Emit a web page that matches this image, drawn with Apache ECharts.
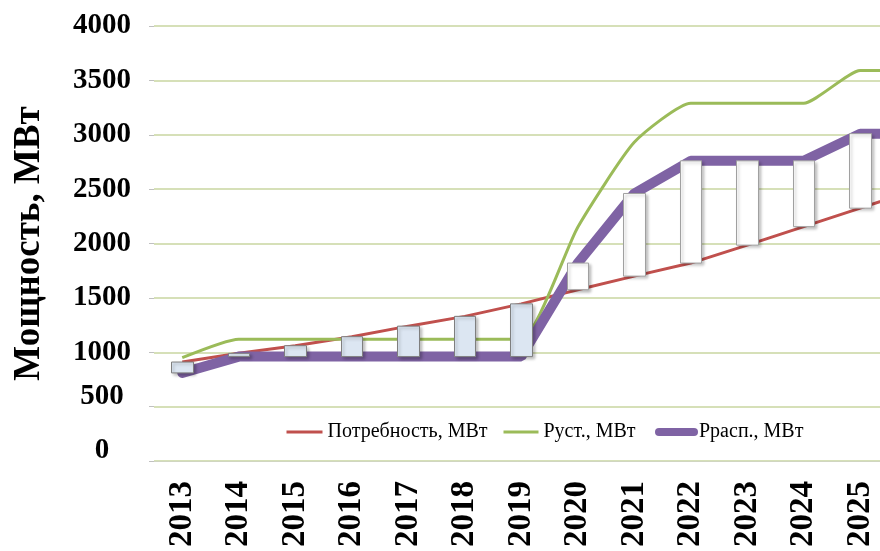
<!DOCTYPE html>
<html><head><meta charset="utf-8">
<script src="https://cdn.jsdelivr.net/npm/echarts@6/dist/echarts.min.js"></script>
<style>html,body{margin:0;padding:0;background:#fff}#c{width:880px;height:551px}</style>
</head><body><div id="c"></div>
<script>
const years = ['2013','2014','2015','2016','2017','2018','2019','2020','2021','2022','2023','2024','2025','2026'];
const demand = [910, 990, 1060, 1143, 1240, 1330, 1445, 1575, 1700, 1820, 1985, 2155, 2325, 2495];
const installed = [950, 1120, 1120, 1120, 1120, 1120, 1120, 2150, 2930, 3290, 3290, 3290, 3590, 3590];
const available = [810, 960, 960, 960, 960, 960, 960, 1820, 2460, 2760, 2760, 2760, 3010, 3010];
const names = ['Потребность, МВт', 'Руст., МВт', 'Ррасп., МВт'];

const boxes = demand.map((d, i) => {
  const a = available[i];
  return [d, a, Math.min(d, a), Math.max(d, a)];
});

const serif = '"Liberation Serif", "Times New Roman", serif';
const legendText = { fontFamily: serif, fontSize: 20, color: '#000' };
const mkLegend = (name, left, w, lineStyle) => ({
  data: [{ name: name, lineStyle: lineStyle }],
  left: left, top: 422, padding: 0,
  itemWidth: w, itemHeight: 14,
  itemStyle: { opacity: 0 },
  textStyle: legendText
});

const chart = echarts.init(document.getElementById('c'));
chart.setOption({
  animation: false,
  backgroundColor: '#fff',
  grid: { left: 154, top: 26, bottom: 90, width: 791, outerBoundsMode: 'none', containLabel: false },
  legend: [
    mkLegend(names[0], 285, 36, { width: 3, color: '#c0504d' }),
    mkLegend(names[1], 502, 35, { width: 3, color: '#9bbb59' }),
    mkLegend(names[2], 655, 35, { width: 8, color: '#7f63a4', cap: 'round' })
  ],
  xAxis: {
    type: 'category', data: years, boundaryGap: true,
    axisLine: { lineStyle: { color: '#d0d6c0', width: 1 } },
    axisTick: { show: false },
    axisLabel: { rotate: 90, margin: 20, fontFamily: serif, fontWeight: 'bold', fontSize: 33, color: '#000', interval: 0 }
  },
  yAxis: {
    type: 'value', min: 0, max: 4000, interval: 500,
    name: 'Мощность, МВт', nameLocation: 'middle', nameGap: 106, nameRotate: 90,
    nameTextStyle: { fontFamily: serif, fontWeight: 'bold', fontSize: 37, color: '#000' },
    axisLine: { show: false },
    axisTick: { show: true, length: 5, lineStyle: { color: '#c0c0c0' } },
    splitLine: { lineStyle: { color: '#c8d6a0', width: 1.5 } },
    axisLabel: {
      margin: 52, align: 'center', fontFamily: serif, fontWeight: 'bold', fontSize: 29, color: '#000',
      formatter: v => (v <= 500 ? '{lo|' + v + '}' : String(v)),
      rich: { lo: { fontFamily: serif, fontWeight: 'bold', fontSize: 29, color: '#000', padding: [0, 0, 20, 0] } }
    }
  },
  series: [
    { name: names[0], type: 'line', data: demand, symbol: 'none', z: 2,
      lineStyle: { color: '#c0504d', width: 3 }, itemStyle: { color: '#c0504d' } },
    { name: names[1], type: 'line', data: installed, symbol: 'none', z: 2, smooth: 0.18,
      lineStyle: { color: '#9bbb59', width: 3 }, itemStyle: { color: '#9bbb59' } },
    { name: names[2], type: 'line', data: available, symbol: 'none', z: 2,
      lineStyle: { color: '#7f63a4', width: 10, cap: 'round' }, itemStyle: { color: '#7f63a4' } },
    { type: 'candlestick', data: boxes, barWidth: 22, z: 3,
      itemStyle: { color: '#ffffff', color0: '#dce6f2', borderColor: '#a0a0a0', borderColor0: '#7f7f7f', borderWidth: 1,
        shadowColor: 'rgba(0,0,0,0.25)', shadowBlur: 3, shadowOffsetX: 2, shadowOffsetY: 2 } }
  ]
});
</script></body></html>
